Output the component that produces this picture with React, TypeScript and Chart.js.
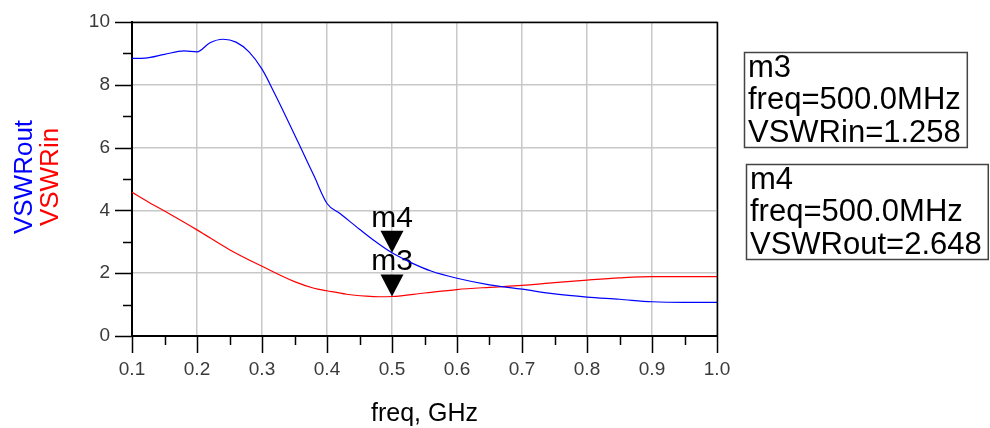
import { useEffect, useRef } from "react";
import { Chart, registerables } from "chart.js";

Chart.register(...registerables);

const FONT = '"Liberation Sans", Arial, sans-serif';

// Output-port VSWR versus frequency (GHz)
const freqOut = [0.1, 0.12, 0.15, 0.18, 0.2, 0.22, 0.24, 0.26, 0.28, 0.3, 0.32, 0.34, 0.36, 0.38, 0.4, 0.42, 0.45, 0.475, 0.5, 0.53, 0.56, 0.6, 0.65, 0.7, 0.75, 0.8, 0.85, 0.9, 0.95, 1.0];
const vswrOut = [8.84, 8.85, 8.97, 9.08, 9.05, 9.34, 9.45, 9.36, 9.05, 8.5, 7.7, 6.85, 5.98, 5.1, 4.22, 3.9, 3.4, 3.0, 2.648, 2.33, 2.07, 1.84, 1.63, 1.49, 1.34, 1.24, 1.17, 1.09, 1.07, 1.07];

// Input-port VSWR versus frequency (GHz)
const freqIn = [0.1, 0.125, 0.15, 0.2, 0.25, 0.3, 0.35, 0.38, 0.4, 0.43, 0.46, 0.48, 0.5, 0.55, 0.6, 0.65, 0.7, 0.75, 0.8, 0.85, 0.9, 0.95, 1.0];
const vswrIn = [4.58, 4.27, 3.98, 3.38, 2.75, 2.22, 1.73, 1.52, 1.44, 1.33, 1.27, 1.25, 1.258, 1.37, 1.48, 1.55, 1.61, 1.7, 1.78, 1.85, 1.89, 1.89, 1.89];

// Markers placed on the traces
const markerNames = ["m3", "m4"];
const markerFreqs = [0.5, 0.5];
const markerValues = [1.258, 2.648];
const markerTraces = ["VSWRin", "VSWRout"];

const xTitle = "freq, GHz";
const yTitles = ["VSWRout", "VSWRin"];
const traceColors = ["#0000ff", "#ff0000"];

const decorations = {
  id: "decorations",
  beforeDatasetsDraw(chart: any) {
    const { ctx, scales } = chart;
    const xs = scales.x;
    const ys = scales.y;
    ctx.save();
    markerNames.forEach((name, i) => {
      const px = xs.getPixelForValue(markerFreqs[i]);
      const py = ys.getPixelForValue(markerValues[i]);
      const w = 23;
      const h = 22;
      ctx.fillStyle = "#000";
      ctx.beginPath();
      ctx.moveTo(px, py);
      ctx.lineTo(px - w / 2, py - h);
      ctx.lineTo(px + w / 2, py - h);
      ctx.closePath();
      ctx.fill();
      ctx.font = `30px ${FONT}`;
      ctx.textAlign = "center";
      ctx.textBaseline = "alphabetic";
      ctx.fillText(name, px, py - h - 4);
    });
    ctx.restore();
  },
  afterDraw(chart: any) {
    const { ctx, chartArea, scales } = chart;
    const xs = scales.x;
    const ys = scales.y;
    const { left, right, top, bottom } = chartArea;
    ctx.save();

    // top and right edges of the plot frame
    ctx.strokeStyle = "#000";
    ctx.lineWidth = 1.5;
    ctx.beginPath();
    ctx.moveTo(left, top + 0.5);
    ctx.lineTo(right + 0.5, top + 0.5);
    ctx.lineTo(right + 0.5, bottom);
    ctx.stroke();

    // major and minor tick marks, outside the frame
    ctx.lineWidth = 1.5;
    ctx.beginPath();
    const xt = xs.ticks.map((t: any) => t.value);
    xt.forEach((v: number, i: number) => {
      const p = Math.round(xs.getPixelForValue(v)) + 0.5;
      ctx.moveTo(p, bottom);
      ctx.lineTo(p, bottom + 17);
      if (i < xt.length - 1) {
        const m = Math.round(xs.getPixelForValue((v + xt[i + 1]) / 2)) + 0.5;
        ctx.moveTo(m, bottom);
        ctx.lineTo(m, bottom + 9);
      }
    });
    const yt = ys.ticks.map((t: any) => t.value);
    yt.forEach((v: number, i: number) => {
      const p = Math.round(ys.getPixelForValue(v)) + 0.5;
      ctx.moveTo(left, p);
      ctx.lineTo(left - 17, p);
      if (i < yt.length - 1) {
        const m = Math.round(ys.getPixelForValue((v + yt[i + 1]) / 2)) + 0.5;
        ctx.moveTo(left, m);
        ctx.lineTo(left - 9, m);
      }
    });
    ctx.stroke();

    // x axis title
    ctx.fillStyle = "#000";
    ctx.font = `25px ${FONT}`;
    ctx.textAlign = "center";
    ctx.textBaseline = "alphabetic";
    ctx.fillText(xTitle, (left + right) / 2, bottom + 85);

    // stacked, colour-coded y axis titles
    const cy = (top + bottom) / 2 - 2;
    const baseX = [left - 100, left - 74];
    yTitles.forEach((t, i) => {
      ctx.save();
      ctx.translate(baseX[i], cy);
      ctx.rotate(-Math.PI / 2);
      ctx.fillStyle = traceColors[i];
      ctx.font = `26px ${FONT}`;
      ctx.textAlign = "center";
      ctx.textBaseline = "alphabetic";
      ctx.fillText(t, 0, 0);
      ctx.restore();
    });

    // marker readout boxes
    const boxLefts = [right + 27, right + 29];
    const boxTops = [top + 30, top + 142];
    const lineH = 32.3;
    ctx.font = `31px ${FONT}`;
    ctx.textAlign = "left";
    markerNames.forEach((name, i) => {
      const lines = [
        name,
        `freq=${(markerFreqs[i] * 1000).toFixed(1)}MHz`,
        `${markerTraces[i]}=${markerValues[i].toFixed(3)}`,
      ];
      const w = Math.max(...lines.map((l) => ctx.measureText(l).width)) + 10;
      const bx = boxLefts[i];
      const by = boxTops[i];
      ctx.fillStyle = "#fff";
      ctx.fillRect(bx, by, w, 95);
      ctx.strokeStyle = "#444";
      ctx.lineWidth = 1.5;
      ctx.strokeRect(bx + 0.5, by + 0.5, w, 95);
      ctx.fillStyle = "#000";
      lines.forEach((l, j) => ctx.fillText(l, bx + 4, by + 25 + j * lineH));
    });

    ctx.restore();
  },
};

export default function App() {
  const canvasRef = useRef<HTMLCanvasElement | null>(null);

  useEffect(() => {
    if (!canvasRef.current) return;
    const tickFont = { family: FONT, size: 19 };
    // tick marks are drawn by the plugin; the library's own ones only reserve the label gap
    const gridOpts = {
      color: "#c8c8c8",
      lineWidth: 1.5,
      drawTicks: true,
      tickLength: 22,
      tickColor: "rgba(0,0,0,0)",
    };
    const chart = new Chart(canvasRef.current, {
      type: "line",
      data: {
        datasets: [
          {
            label: yTitles[0],
            data: freqOut.map((f, i) => ({ x: f, y: vswrOut[i] })),
            borderColor: traceColors[0],
            borderWidth: 1.2,
            pointRadius: 0,
            cubicInterpolationMode: "monotone",
          },
          {
            label: yTitles[1],
            data: freqIn.map((f, i) => ({ x: f, y: vswrIn[i] })),
            borderColor: traceColors[1],
            borderWidth: 1.2,
            pointRadius: 0,
            cubicInterpolationMode: "monotone",
          },
        ],
      },
      options: {
        animation: false,
        responsive: true,
        maintainAspectRatio: false,
        layout: { padding: { top: 22, right: 273, left: 0, bottom: 0 } },
        plugins: { legend: { display: false }, tooltip: { enabled: false } },
        scales: {
          x: {
            type: "linear",
            min: 0.1,
            max: 1.0,
            afterFit: (s: any) => {
              s.height = 92;
            },
            ticks: {
              stepSize: 0.1,
              autoSkip: false,
              maxRotation: 0,
              padding: 0,
              color: "#3a3a3a",
              font: tickFont,
              callback: (v: any) => Number(v).toFixed(1),
            },
            grid: gridOpts,
            border: { color: "#000", width: 2 },
          },
          y: {
            type: "linear",
            min: 0,
            max: 10,
            afterFit: (s: any) => {
              s.width = 132;
            },
            ticks: {
              stepSize: 2,
              padding: 0,
              color: "#3a3a3a",
              font: tickFont,
            },
            grid: gridOpts,
            border: { color: "#000", width: 2 },
          },
        },
      },
      plugins: [decorations],
    });
    return () => chart.destroy();
  }, []);

  return (
    <div style={{ position: "absolute", left: 0, top: 0, width: 990, height: 428, background: "#fff" }}>
      <canvas ref={canvasRef} style={{ display: "block" }} />
    </div>
  );
}
